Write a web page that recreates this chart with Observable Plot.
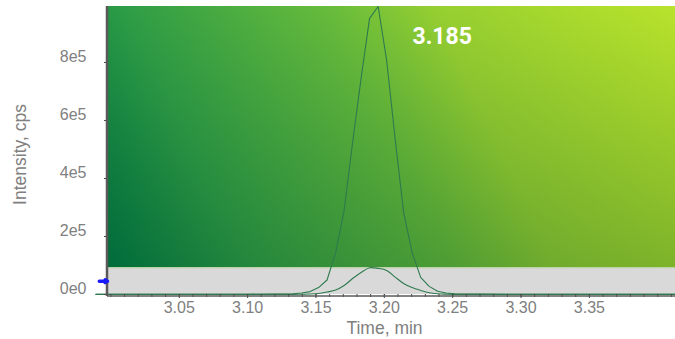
<!DOCTYPE html>
<html><head><meta charset="utf-8">
<script src="https://cdn.jsdelivr.net/npm/d3@7"></script>
<script src="https://cdn.jsdelivr.net/npm/@observablehq/plot@0.6"></script>
<style>body{margin:0;background:#fff;}</style>
</head><body><div id="chart"></div>
<script>
// ---- data ----
const times = [2.989, 3.02, 3.06, 3.10, 3.12, 3.1333, 3.1395, 3.1457, 3.1519, 3.1581, 3.1644, 3.1706, 3.1768, 3.1830, 3.1892, 3.1955, 3.2017, 3.2079, 3.2141, 3.2203, 3.2266, 3.2328, 3.2390, 3.2452, 3.2514, 3.2576, 3.27, 3.30, 3.35, 3.413];
const intensityMain = [800, 900, 900, 1000, 1500, 2500, 5000, 10000, 24000, 50000, 145000, 290000, 524000, 745000, 952000, 993000, 807000, 538000, 283000, 145000, 59000, 28000, 11000, 5000, 2500, 1800, 1200, 900, 800, 800];
const intensitySecondary = [300, 300, 300, 300, 300, 500, 900, 1500, 3400, 8600, 15500, 31000, 55000, 76000, 92000, 90000, 83000, 60000, 38000, 24000, 14000, 6000, 2500, 1200, 600, 400, 400, 400, 400, 400];
const xTicks = [3.05, 3.10, 3.15, 3.20, 3.25, 3.30, 3.35];
const xTickLabels = ["3.05", "3.10", "3.15", "3.20", "3.25", "3.30", "3.35"];
const yTicks = [0, 200000, 400000, 600000, 800000];
const yTickLabels = ["0e0", "2e5", "4e5", "6e5", "8e5"];
const peakLabel = "3.185";
const xDomain = [2.9975, 3.413];
const yMax = 993000;
const gradientStops = [[0, "#007a44"], [0.2, "#2e9d46"], [0.5, "#68bc3b"], [0.65, "#96cf31"], [0.85, "#aadb2d"], [1, "#b9e32c"]];

// ---- derived ----
const mainTrace = times.map((t, i) => ({t, v: intensityMain[i]}));
const secondaryTrace = times.map((t, i) => ({t, v: intensitySecondary[i]}));
const bandTop = d3.max(intensitySecondary);
const peakTime = times[d3.maxIndex(intensityMain)];
const minorTicks = d3.range(300, 342).map(d => d / 100);
const xFmt = v => xTickLabels[xTicks.findIndex(t => Math.abs(t - v) < 1e-9)];
const yFmt = v => yTickLabels[yTicks.indexOf(v)];
const panel = [{x1: xDomain[0], x2: xDomain[1], y1: bandTop, y2: yMax}];

const plot = Plot.plot({
  width: 675, height: 339,
  marginLeft: 107, marginRight: 0, marginTop: 6, marginBottom: 45,
  style: {fontFamily: "'Liberation Sans', Arial, sans-serif", fontSize: "16px", color: "#808080", background: "#fff", overflow: "visible"},
  x: {domain: xDomain, label: null},
  y: {domain: [0, yMax], label: null},
  marks: [
    Plot.rect(panel, {x1: "x1", x2: "x2", y1: "y1", y2: "y2", fill: "url(#bggrad)"}),
    Plot.rect(panel, {x1: "x1", x2: "x2", y1: "y1", y2: "y2", fill: "url(#shade)"}),
    Plot.rect([{x1: xDomain[0], x2: xDomain[1], y1: 0, y2: bandTop}], {x1: "x1", x2: "x2", y1: "y1", y2: "y2", fill: "#d9d9d9"}),
    Plot.ruleY([bandTop], {stroke: "#b5cf9a", strokeWidth: 1}),
    Plot.line(mainTrace, {x: "t", y: "v", stroke: "#2e7a4e", strokeWidth: 1.1}),
    Plot.line(secondaryTrace, {x: "t", y: "v", stroke: "#2e7a4e", strokeWidth: 1.1, curve: "catmull-rom"}),
    Plot.axisX({ticks: minorTicks, tickSize: 3, tickFormat: () => "", stroke: "#444"}),
    Plot.axisX({ticks: xTicks, tickSize: 4, tickPadding: 3, tickFormat: xFmt, stroke: "#444", fill: "#808080", fontSize: 16}),
    Plot.axisY({ticks: yTicks, tickSize: 3, tickFormat: () => "", stroke: "#444"}),
    Plot.axisY({ticks: yTicks, tickSize: 0, tickPadding: 21, dy: -6, tickFormat: yFmt, fill: "#808080", fontSize: 16}),
    Plot.ruleX([xDomain[0]], {stroke: "#5a5a5a", strokeWidth: 2.5, dx: -0.5, insetBottom: -2}),
    Plot.ruleY([0], {stroke: "#5a5a5a", strokeWidth: 1.5, dy: 1.5}),
    Plot.arrow([{x1: xDomain[0] - 0.006, x2: xDomain[0], y: bandTop / 2}], {x1: "x1", x2: "x2", y1: "y", y2: "y", stroke: "#1a1aff", strokeWidth: 3.5, headLength: 6, bend: 0}),
    Plot.text([{t: peakTime, label: peakLabel}], {x: "t", text: "label", frameAnchor: "top", lineAnchor: "middle", dx: 64, dy: 30, fill: "white", fontSize: 23, fontWeight: "bold", fontFamily: "Roboto, sans-serif"}),
    Plot.text(["Time, min"], {frameAnchor: "bottom", lineAnchor: "middle", dx: -7, dy: 34, fontSize: 17.5, fill: "#808080"}),
    Plot.text(["Intensity, cps"], {frameAnchor: "left", textAnchor: "middle", lineAnchor: "middle", dx: -87, dy: 4, rotate: -90, fontSize: 17.5, fill: "#808080"})
  ]
});

const xs = plot.scale("x"), ys = plot.scale("y");
const defs = d3.select(plot).insert("defs", ":first-child");
const grad = defs.append("linearGradient").attr("id", "bggrad").attr("gradientUnits", "userSpaceOnUse")
  .attr("x1", xs.apply(xDomain[0])).attr("y1", ys.apply(bandTop))
  .attr("x2", xs.apply(xDomain[1])).attr("y2", ys.apply(yMax));
gradientStops.forEach(([o, c]) => grad.append("stop").attr("offset", o).attr("stop-color", c));
const shade = defs.append("linearGradient").attr("id", "shade").attr("gradientUnits", "userSpaceOnUse")
  .attr("x1", 0).attr("y1", ys.apply(yMax)).attr("x2", 0).attr("y2", ys.apply(bandTop));
shade.append("stop").attr("offset", 0).attr("stop-color", "#004020").attr("stop-opacity", 0);
shade.append("stop").attr("offset", 1).attr("stop-color", "#004020").attr("stop-opacity", 0.25);

document.getElementById("chart").appendChild(plot);
</script>
</body></html>
